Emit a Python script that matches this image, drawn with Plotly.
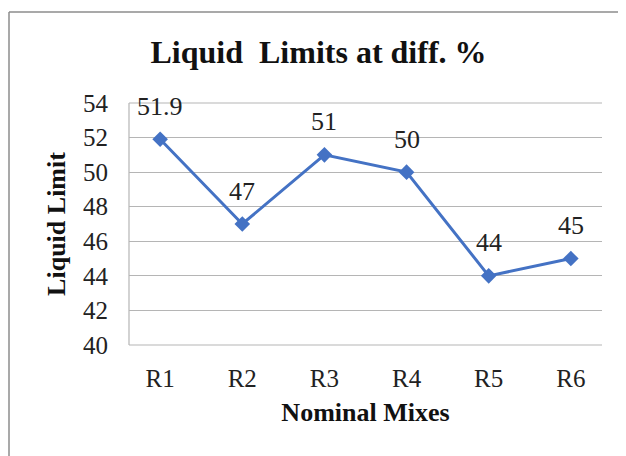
import plotly.graph_objects as go

mixes = ["R1", "R2", "R3", "R4", "R5", "R6"]
liquid_limit = [51.9, 47, 51, 50, 44, 45]
label_text = ["51.9", "47", "51", "50", "44", "45"]

# page body has an 8px margin, so the figure is a bit smaller than the window
W, H = 618, 448
L, R, T, B = 121, 24, 95, 111
pw, ph = W - L - R, H - T - B
serif = "Liberation Serif, Times New Roman, serif"
grid = "#b5b5b5"

fig = go.Figure()
fig.add_trace(go.Scatter(
    x=mixes, y=liquid_limit, mode="lines+markers",
    line=dict(color="#4472C4", width=3),
    marker=dict(symbol="diamond", size=12, color="#4472C4"),
    showlegend=False, hoverinfo="skip"))

# data labels sit above each point
for m, v, t in zip(mixes, liquid_limit, label_text):
    fig.add_annotation(x=m, y=v, text=t, showarrow=False, yshift=33,
                       font=dict(family=serif, size=26, color="#222"))

# plot area edges: top, bottom and left (no right edge in the original)
for x0, x1, y0, y1 in [(0, 1, 1, 1), (0, 1, 0, 0), (0, 0, 0, 1)]:
    fig.add_shape(type="line", xref="paper", yref="paper", x0=x0, x1=x1, y0=y0, y1=y1,
                  line=dict(color=grid, width=1.2), layer="below")

# outer chart frame (left and top edges visible)
fx = (1 - L) / pw
fy = 1 + (T - 4) / ph
fig.add_shape(type="line", xref="paper", yref="paper", x0=fx, x1=fx, y0=fy, y1=-B / ph,
              line=dict(color="#8c8c8c", width=1.5))
fig.add_shape(type="line", xref="paper", yref="paper", x0=fx, x1=(W + 10 - L) / pw, y0=fy, y1=fy,
              line=dict(color="#8c8c8c", width=1.5))

fig.update_layout(
    width=W, height=H,
    margin=dict(l=L, r=R, t=T, b=B, pad=0),
    plot_bgcolor="white", paper_bgcolor="white",
    font=dict(family=serif, color="#222"),
    title=dict(text="<b>Liquid  Limits at diff. %</b>", x=310.5 / W, xanchor="center",
               y=1 - 44 / H, yanchor="middle",
               font=dict(family=serif, size=32, color="#111")),
    xaxis=dict(showgrid=False, showline=False, zeroline=False,
               tickfont=dict(size=25), ticklabelstandoff=16,
               title=dict(text="<b>Nominal Mixes</b>", font=dict(size=26, color="#111"), standoff=11)),
    yaxis=dict(range=[40, 54], dtick=2, showgrid=True, gridcolor=grid, gridwidth=1.2,
               showline=False, zeroline=False,
               tickfont=dict(size=25), ticklabelstandoff=20,
               title=dict(text="<b>Liquid Limit</b>", font=dict(size=26, color="#111"), standoff=9)),
)

fig.write_html("out.html")
